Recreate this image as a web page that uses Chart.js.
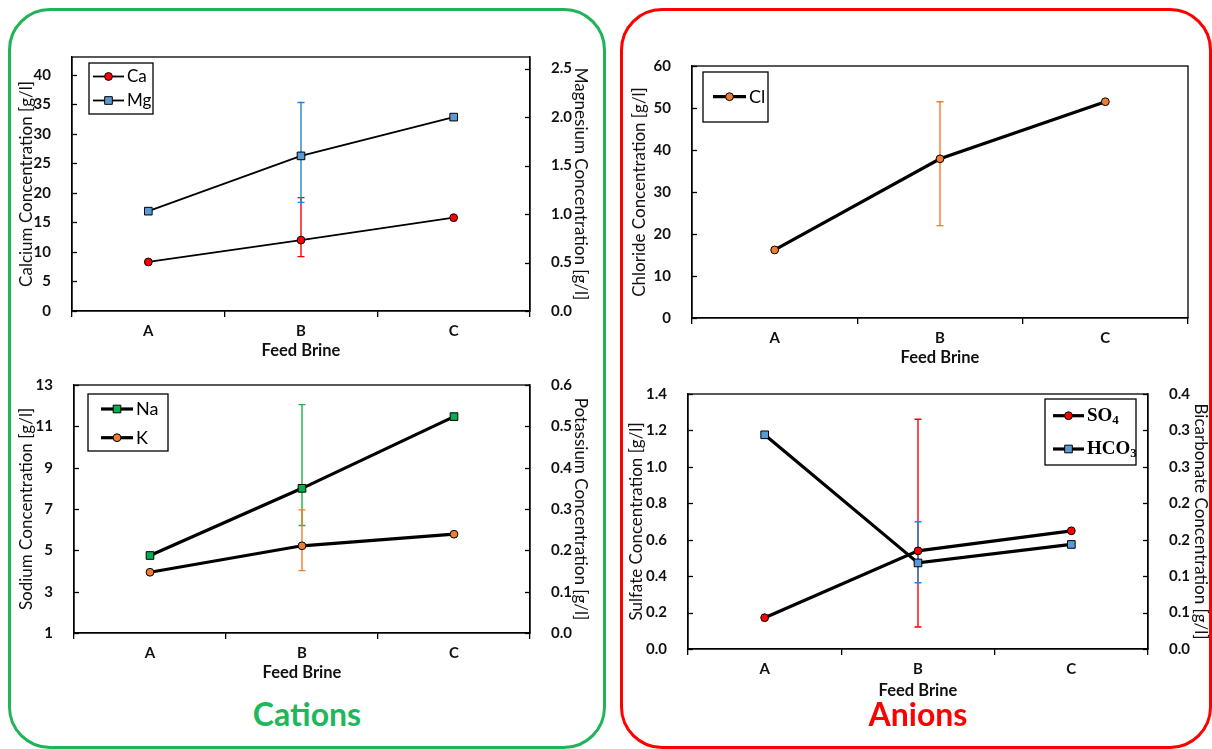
<!DOCTYPE html>
<html>
<head>
<meta charset="utf-8">
<script src="https://cdn.jsdelivr.net/npm/chart.js@4.4.0/dist/chart.umd.min.js"></script>
<style>
  body { margin: 0; width: 1212px; height: 749px; overflow: hidden; background: #fff; position: relative; font-family: Lato, "Open Sans", sans-serif; }
  .panel { position: absolute; border-radius: 42px; box-sizing: border-box; }
  #cationsBox { left: 8px; top: 8px; width: 598px; height: 741px; border: 3px solid #20b35a; }
  #anionsBox { left: 620px; top: 8px; width: 592px; height: 741px; border: 3px solid #ff0000; }
  .caption { position: absolute; top: 696px; width: 300px; text-align: center; font: bold 32px Lato, sans-serif; line-height: 36px; }
  canvas { position: absolute; }
</style>
</head>
<body>
<div class="panel" id="cationsBox"></div>
<div class="panel" id="anionsBox"></div>

<canvas id="caMgChart" width="583" height="329" style="left:12px;top:35px"></canvas>
<canvas id="naKChart" width="583" height="323" style="left:12px;top:363px"></canvas>
<canvas id="clChart" width="573" height="327" style="left:625px;top:44px"></canvas>
<canvas id="so4Chart" width="593" height="332" style="left:622px;top:372px"></canvas>

<div class="caption" style="left:157px;color:#1eb85c">Cations</div>
<div class="caption" style="left:768px;color:#ff0000">Anions</div>

<script>
// Feed brine categories
const categories = ['A', 'B', 'C'];

// Cations (g/l)
const caValues = [8.3, 12.0, 15.8];
const caErrLow = [null, 9.2, null];
const caErrHigh = [null, 19.2, null];
const mgValues = [1.03, 1.60, 2.00];
const mgErrLow = [null, 1.12, null];
const mgErrHigh = [null, 2.15, null];

const naValues = [4.75, 8.0, 11.47];
const naErrLow = [null, 6.2, null];
const naErrHigh = [null, 12.05, null];
const kValues = [0.147, 0.211, 0.239];
const kErrLow = [null, 0.151, null];
const kErrHigh = [null, 0.298, null];

// Anions (g/l)
const clValues = [16.2, 37.9, 51.5];
const clErrLow = [null, 22.0, null];
const clErrHigh = [null, 51.5, null];

const so4Values = [0.172, 0.539, 0.649];
const so4ErrLow = [null, 0.121, null];
const so4ErrHigh = [null, 1.261, null];
const hco3Values = [0.336, 0.135, 0.164];
const hco3ErrLow = [null, 0.104, null];
const hco3ErrHigh = [null, 0.1995, null];

Chart.defaults.font.family = 'Lato, "Open Sans", sans-serif';
Chart.defaults.color = '#111';

// Excel look: plot border, inward y ticks, error bars, legend inside the plot
const excelPlugin = {
    id: 'excel',
    beforeDatasetsDraw(chart) {
        const ctx = chart.ctx;
        chart.data.datasets.forEach((ds, i) => {
            if (!ds.errLow) return;
            const meta = chart.getDatasetMeta(i);
            const ys = chart.scales[ds.yAxisID];
            ds.errLow.forEach((lo, j) => {
                if (lo == null) return;
                const x = meta.data[j].x;
                const y1 = ys.getPixelForValue(lo);
                const y2 = ys.getPixelForValue(ds.errHigh[j]);
                ctx.save();
                ctx.strokeStyle = ds.errColor;
                ctx.lineWidth = 1.4;
                ctx.beginPath();
                ctx.moveTo(x, y1); ctx.lineTo(x, y2);
                ctx.moveTo(x - 3.5, y1); ctx.lineTo(x + 3.5, y1);
                ctx.moveTo(x - 3.5, y2); ctx.lineTo(x + 3.5, y2);
                ctx.stroke();
                ctx.restore();
            });
        });
    },
    afterDraw(chart, args, opts) {
        const ctx = chart.ctx;
        const a = chart.chartArea;
        ctx.save();
        ctx.strokeStyle = '#000';
        ctx.lineWidth = 1.3;
        ctx.strokeRect(a.left, a.top, a.right - a.left, a.bottom - a.top);

        Object.values(chart.scales).forEach(s => {
            if (s.axis !== 'y') return;
            const x0 = s.position === 'left' ? a.left : a.right;
            const dir = s.position === 'left' ? 1 : -1;
            s.ticks.forEach(t => {
                const y = Math.round(s.getPixelForValue(t.value)) + 0.5;
                ctx.beginPath();
                ctx.moveTo(x0, y);
                ctx.lineTo(x0 + dir * 5, y);
                ctx.stroke();
            });
        });

        if (opts && opts.box) {
            const L = opts.box;
            const bx = L.fromRight ? a.right - L.dx - L.w : a.left + L.dx;
            const by = a.top + L.dy;
            ctx.fillStyle = '#fff';
            ctx.fillRect(bx, by, L.w, L.h);
            ctx.strokeStyle = '#000';
            ctx.lineWidth = 1.3;
            ctx.strokeRect(bx, by, L.w, L.h);
            chart.data.datasets.forEach((ds, i) => {
                const y = by + L.rows[i];
                const x0 = bx + L.lineX;
                const x1 = x0 + L.lineLen;
                ctx.strokeStyle = '#000';
                ctx.lineWidth = ds.borderWidth;
                ctx.beginPath();
                ctx.moveTo(x0, y); ctx.lineTo(x1, y);
                ctx.stroke();
                ctx.fillStyle = ds.pointBackgroundColor;
                ctx.lineWidth = 1;
                Chart.helpers.drawPoint(ctx, { pointStyle: ds.pointStyle, radius: ds.pointRadius, borderWidth: 1, rotation: 0 }, (x0 + x1) / 2, y);
                ctx.fillStyle = '#000';
                ctx.textBaseline = 'middle';
                ctx.textAlign = 'left';
                ctx.font = L.font;
                const m = L.subscripts ? ds.label.match(/^(\D+)(\d*)$/) : null;
                if (m && m[2]) {
                    ctx.fillText(m[1], x1 + 3, y);
                    const w = ctx.measureText(m[1]).width;
                    ctx.font = L.subFont;
                    ctx.fillText(m[2], x1 + 3 + w, y + 5);
                } else {
                    ctx.fillText(ds.label, x1 + 3, y);
                }
            });
        }
        ctx.restore();
    }
};

const yAxis = (position, min, max, width, title, tickOpts) => ({
    type: 'linear',
    position, min, max,
    afterFit: s => { s.width = width; },
    grid: { display: false },
    border: { color: '#000', width: 1.3 },
    ticks: Object.assign({ padding: 13, font: { size: 15, weight: 'bold' }, color: '#111' }, tickOpts),
    title: { display: true, text: title, font: { size: 17 }, color: '#111', padding: 4 }
});

const xAxis = (height) => ({
    type: 'category',
    offset: true,
    afterFit: s => { s.height = height; },
    grid: { display: true, offset: true, drawOnChartArea: false, drawTicks: true, tickLength: 6, color: '#000', lineWidth: 1.3 },
    border: { color: '#000', width: 1.3 },
    ticks: { padding: 5, font: { size: 15, weight: 'bold' }, color: '#111' },
    title: { display: true, text: 'Feed Brine', font: { size: 16.5, weight: 'bold' }, color: '#111', padding: 3 }
});

const series = (label, data, axis, style, fill, errLow, errHigh, errColor, width) => ({
    label, data, yAxisID: axis,
    borderColor: '#000', borderWidth: width, tension: 0,
    pointStyle: style, pointRadius: style === 'rect' ? 5.4 : 3.9,
    pointBackgroundColor: fill, pointBorderColor: '#000', pointBorderWidth: 1,
    errLow, errHigh, errColor
});

const makeChart = (id, datasets, scales, padding, box) => new Chart(document.getElementById(id), {
    type: 'line',
    data: { labels: categories, datasets },
    options: {
        responsive: false,
        animation: false,
        layout: { padding },
        plugins: { legend: { display: false }, tooltip: { enabled: false }, excel: { box } },
        scales
    },
    plugins: [excelPlugin]
});

makeChart('caMgChart', [
    series('Ca', caValues, 'y', 'circle', '#ff0000', caErrLow, caErrHigh, '#ff0000', 1.8),
    series('Mg', mgValues, 'y2', 'rect', '#5b9bd5', mgErrLow, mgErrHigh, '#1f86d9', 1.8)
], {
    x: xAxis(53),
    y: yAxis('left', 0, 43, 60, 'Calcium Concentration [g/l]', { stepSize: 5, includeBounds: false }),
    y2: yAxis('right', 0, 2.62, 65, 'Magnesium Concentration [g/l]', { stepSize: 0.5, includeBounds: false, callback: v => v.toFixed(1) })
}, { top: 0 }, { dx: 17, dy: 6, w: 64, h: 51, rows: [13.5, 37.5], lineX: 4, lineLen: 31, font: '17px Lato' });

makeChart('naKChart', [
    series('Na', naValues, 'y', 'rect', '#00b050', naErrLow, naErrHigh, '#22b04b', 3.2),
    series('K', kValues, 'y2', 'circle', '#ed7d31', kErrLow, kErrHigh, '#ed7d31', 3.2)
], {
    x: xAxis(53),
    y: yAxis('left', 1, 13, 62, 'Sodium Concentration [g/l]', { stepSize: 2 }),
    y2: yAxis('right', 0, 0.6, 65, 'Potassium Concentration [g/l]', { stepSize: 0.1, callback: v => v.toFixed(1) })
}, { top: 0 }, { dx: 14, dy: 9, w: 80, h: 57, rows: [15, 43.7], lineX: 13, lineLen: 32, font: '18px Lato' });

makeChart('clChart', [
    series('Cl', clValues, 'y', 'circle', '#ed7d31', clErrLow, clErrHigh, '#ed7d31', 3.2)
], {
    x: xAxis(53),
    y: yAxis('left', 0, 60, 67, 'Chloride Concentration [g/l]', { stepSize: 10 })
}, { top: 0, right: 10 }, { dx: 11, dy: 6, w: 65, h: 50, rows: [24.7], lineX: 10, lineLen: 33, font: '18px Lato' });

makeChart('so4Chart', [
    series('SO4', so4Values, 'y', 'circle', '#ff0000', so4ErrLow, so4ErrHigh, '#ff0000', 3.2),
    series('HCO3', hco3Values, 'y2', 'rect', '#5b9bd5', hco3ErrLow, hco3ErrHigh, '#1f86d9', 3.2)
], {
    x: xAxis(55),
    y: yAxis('left', 0, 1.4, 66, 'Sulfate Concentration [g/l]', { count: 8, callback: v => v.toFixed(1) }),
    y2: yAxis('right', 0, 0.4, 67, 'Bicarbonate Concentration [g/l]', { count: 8, callback: v => v.toFixed(1) })
}, { top: 0 }, { fromRight: true, dx: 12, dy: 5, w: 91, h: 66, rows: [16.7, 50], lineX: 8, lineLen: 31,
    font: 'bold 19px "Liberation Serif"', subFont: 'bold 13px "Liberation Serif"', subscripts: true });
</script>
</body>
</html>
